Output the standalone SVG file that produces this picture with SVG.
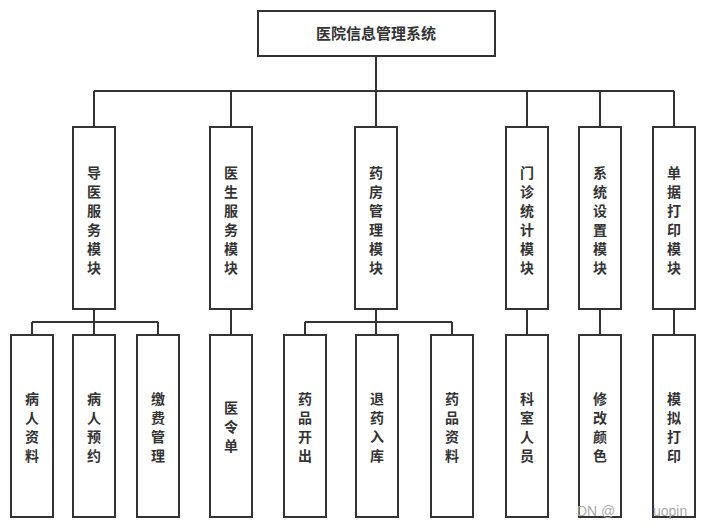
<svg xmlns="http://www.w3.org/2000/svg" width="708" height="530" viewBox="0 0 708 530">
<style>
.box{fill:#fff;stroke:#333;stroke-width:2}
.ln{fill:none;stroke:#333;stroke-width:2}
.t{font-family:"Noto Sans CJK SC","Liberation Sans",sans-serif;font-weight:bold;font-size:14px;fill:#333;text-anchor:middle}
.title{font-size:15px}
.wm{font-family:"Liberation Sans",sans-serif;font-size:14px;fill:#aaa}
</style>
<rect width="708" height="530" fill="#fff"/>
<g id="connectors">
<path class="ln" d="M376 56V127M94 91H674M94 91V127M231 91V127M527 91V127M600 91V127M674 91V127"/>
<path class="ln" d="M94 309V335M32 322H158M32 322V335M158 322V335"/>
<path class="ln" d="M231 309V335"/>
<path class="ln" d="M376 309V335M305 322H452M305 322V335M452 322V335"/>
<path class="ln" d="M527 309V335M600 309V335M674 309V335"/>
</g>
<g id="root"><rect class="box" x="258" y="11" width="237" height="45"/><text class="t title" x="376" y="39">医院信息管理系统</text></g>
<g id="m1"><rect class="box" x="73" y="127" width="42" height="182"/><text class="t" x="94"><tspan x="94" y="178">导</tspan><tspan x="94" dy="19">医</tspan><tspan x="94" dy="19">服</tspan><tspan x="94" dy="19">务</tspan><tspan x="94" dy="19">模</tspan><tspan x="94" dy="19">块</tspan></text></g>
<g id="m2"><rect class="box" x="210" y="127" width="42" height="182"/><text class="t"><tspan x="231" y="178">医</tspan><tspan x="231" dy="19">生</tspan><tspan x="231" dy="19">服</tspan><tspan x="231" dy="19">务</tspan><tspan x="231" dy="19">模</tspan><tspan x="231" dy="19">块</tspan></text></g>
<g id="m3"><rect class="box" x="355" y="127" width="42" height="182"/><text class="t"><tspan x="376" y="178">药</tspan><tspan x="376" dy="19">房</tspan><tspan x="376" dy="19">管</tspan><tspan x="376" dy="19">理</tspan><tspan x="376" dy="19">模</tspan><tspan x="376" dy="19">块</tspan></text></g>
<g id="m4"><rect class="box" x="506" y="127" width="42" height="182"/><text class="t"><tspan x="527" y="178">门</tspan><tspan x="527" dy="19">诊</tspan><tspan x="527" dy="19">统</tspan><tspan x="527" dy="19">计</tspan><tspan x="527" dy="19">模</tspan><tspan x="527" dy="19">块</tspan></text></g>
<g id="m5"><rect class="box" x="579" y="127" width="42" height="182"/><text class="t"><tspan x="600" y="178">系</tspan><tspan x="600" dy="19">统</tspan><tspan x="600" dy="19">设</tspan><tspan x="600" dy="19">置</tspan><tspan x="600" dy="19">模</tspan><tspan x="600" dy="19">块</tspan></text></g>
<g id="m6"><rect class="box" x="653" y="127" width="42" height="182"/><text class="t"><tspan x="674" y="178">单</tspan><tspan x="674" dy="19">据</tspan><tspan x="674" dy="19">打</tspan><tspan x="674" dy="19">印</tspan><tspan x="674" dy="19">模</tspan><tspan x="674" dy="19">块</tspan></text></g>
<g id="s1"><rect class="box" x="11" y="335" width="42" height="182"/><text class="t"><tspan x="32" y="404">病</tspan><tspan x="32" dy="19">人</tspan><tspan x="32" dy="19">资</tspan><tspan x="32" dy="19">料</tspan></text></g>
<g id="s2"><rect class="box" x="73" y="335" width="42" height="182"/><text class="t"><tspan x="94" y="404">病</tspan><tspan x="94" dy="19">人</tspan><tspan x="94" dy="19">预</tspan><tspan x="94" dy="19">约</tspan></text></g>
<g id="s3"><rect class="box" x="137" y="335" width="42" height="182"/><text class="t"><tspan x="158" y="404">缴</tspan><tspan x="158" dy="19">费</tspan><tspan x="158" dy="19">管</tspan><tspan x="158" dy="19">理</tspan></text></g>
<g id="s4"><rect class="box" x="210" y="335" width="42" height="182"/><text class="t"><tspan x="231" y="413">医</tspan><tspan x="231" dy="19">令</tspan><tspan x="231" dy="19">单</tspan></text></g>
<g id="s5"><rect class="box" x="284" y="335" width="42" height="182"/><text class="t"><tspan x="305" y="404">药</tspan><tspan x="305" dy="19">品</tspan><tspan x="305" dy="19">开</tspan><tspan x="305" dy="19">出</tspan></text></g>
<g id="s6"><rect class="box" x="356" y="335" width="42" height="182"/><text class="t"><tspan x="377" y="404">退</tspan><tspan x="377" dy="19">药</tspan><tspan x="377" dy="19">入</tspan><tspan x="377" dy="19">库</tspan></text></g>
<g id="s7"><rect class="box" x="431" y="335" width="42" height="182"/><text class="t"><tspan x="452" y="404">药</tspan><tspan x="452" dy="19">品</tspan><tspan x="452" dy="19">资</tspan><tspan x="452" dy="19">料</tspan></text></g>
<g id="s8"><rect class="box" x="506" y="335" width="42" height="182"/><text class="t"><tspan x="527" y="404">科</tspan><tspan x="527" dy="19">室</tspan><tspan x="527" dy="19">人</tspan><tspan x="527" dy="19">员</tspan></text></g>
<g id="s9"><rect class="box" x="579" y="335" width="42" height="182"/><text class="t"><tspan x="600" y="404">修</tspan><tspan x="600" dy="19">改</tspan><tspan x="600" dy="19">颜</tspan><tspan x="600" dy="19">色</tspan></text></g>
<g id="s10"><rect class="box" x="653" y="335" width="42" height="182"/><text class="t"><tspan x="674" y="404">模</tspan><tspan x="674" dy="19">拟</tspan><tspan x="674" dy="19">打</tspan><tspan x="674" dy="19">印</tspan></text></g>
<text class="wm" x="577" y="516">DN @</text>
<text class="wm" x="653" y="516">uopin</text>
</svg>
